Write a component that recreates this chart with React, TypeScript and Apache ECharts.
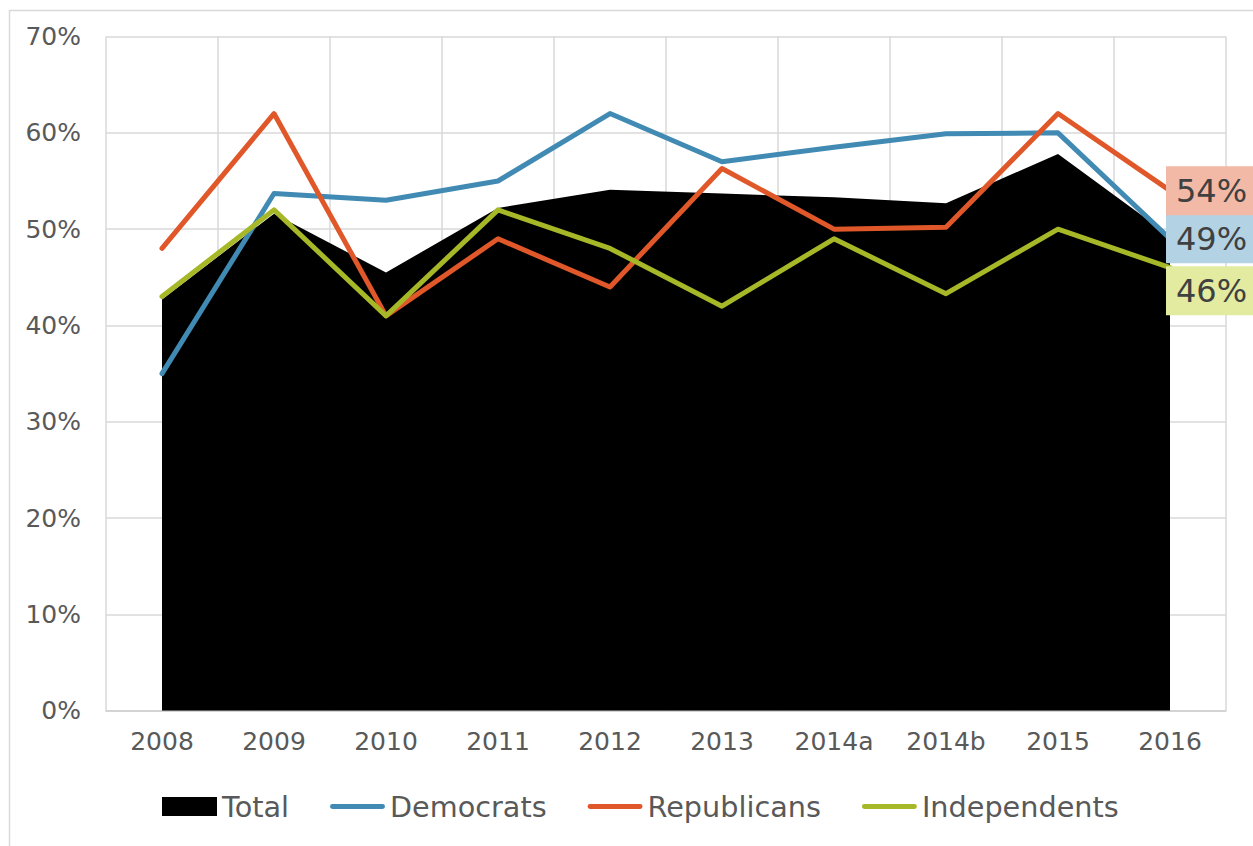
import React, { useEffect, useRef } from "react";
import * as echarts from "echarts";

const categories = ["2008", "2009", "2010", "2011", "2012", "2013", "2014a", "2014b", "2015", "2016"];
const totalValues = [42.7, 51.6, 45.5, 52.2, 54.1, 53.7, 53.3, 52.7, 57.8, 49.3];
const democratValues = [35.0, 53.7, 53.0, 55.0, 62.0, 57.0, 58.5, 59.9, 60.0, 49.0];
const republicanValues = [48.0, 62.0, 41.0, 49.0, 44.0, 56.3, 50.0, 50.2, 62.0, 54.0];
const independentValues = [43.0, 52.0, 41.0, 52.0, 48.0, 42.0, 49.0, 43.3, 50.0, 46.0];
const endLabels = ["54%", "49%", "46%"];
const yTicks = [0, 10, 20, 30, 40, 50, 60, 70];

const FONT = "DejaVu Sans";
const TEXT = "#595959";
const BLUE = "#418AB3";
const RED = "#E0582A";
const GREEN = "#A6B727";
const LINE_ICON = "path://M2.5,0 L53.5,0 A2.5,2.5 0 0 1 53.5,5 L2.5,5 A2.5,2.5 0 0 1 2.5,0 Z";

export default function App() {
  const ref = useRef<HTMLDivElement>(null);
  useEffect(() => {
    if (!ref.current) return;
    const chart = echarts.init(ref.current, null, { renderer: "svg" });
    const lineSeries = (
      name: string,
      data: number[],
      color: string,
      labelText: string,
      labelBg: string,
      offsetY: number
    ) => ({
      name,
      type: "line",
      data,
      symbol: "none",
      z: 3,
      lineStyle: { color, width: 5, cap: "round", join: "round" },
      itemStyle: { color },
      endLabel: {
        show: true,
        formatter: () => labelText,
        distance: -4,
        offset: [0, offsetY],
        backgroundColor: labelBg,
        color: "#404040",
        fontFamily: FONT,
        fontSize: 32,
        lineHeight: 38,
        padding: [6, 10, 5, 10],
      },
    });
    chart.setOption({
      animation: false,
      backgroundColor: "#ffffff",
      textStyle: { fontFamily: FONT },
      graphic: [
        {
          type: "rect",
          left: 7,
          top: 8,
          shape: { width: 1300, height: 900 },
          style: { fill: "none", stroke: "#D9D9D9", lineWidth: 1.5 },
          silent: true,
          z: -1,
        },
      ],
      grid: { left: 106, right: 27, top: 36.5, bottom: 135.2, containLabel: false },
      legend: {
        left: 157,
        top: 787,
        itemGap: 41,
        itemWidth: 55,
        itemHeight: 19,
        textStyle: { fontFamily: FONT, fontSize: 28.7, color: TEXT },
        data: [
          { name: "Total", icon: "rect", itemStyle: { color: "#000000" } },
          { name: "Democrats", icon: LINE_ICON, itemStyle: { color: BLUE } },
          { name: "Republicans", icon: LINE_ICON, itemStyle: { color: RED } },
          { name: "Independents", icon: LINE_ICON, itemStyle: { color: GREEN } },
        ],
      },
      xAxis: {
        type: "category",
        data: categories,
        boundaryGap: true,
        axisLine: { show: true, lineStyle: { color: "#D0D0D0", width: 1.5 } },
        axisTick: { show: false },
        axisLabel: { color: TEXT, fontFamily: FONT, fontSize: 25, margin: 18 },
        splitLine: { show: true, interval: 0, lineStyle: { color: "#D9D9D9", width: 1.5 } },
      },
      yAxis: {
        type: "value",
        min: yTicks[0],
        max: yTicks[yTicks.length - 1],
        interval: 10,
        axisLine: { show: false },
        axisTick: { show: false },
        axisLabel: {
          color: TEXT,
          fontFamily: FONT,
          fontSize: 25,
          margin: 25,
          formatter: (v: number) => `${v}%`,
        },
        splitLine: { show: true, lineStyle: { color: "#D9D9D9", width: 1.5 } },
      },
      series: [
        {
          name: "Total",
          type: "line",
          data: totalValues,
          symbol: "none",
          z: 2,
          lineStyle: { width: 0, color: "#000000" },
          itemStyle: { color: "#000000" },
          areaStyle: { color: "#000000", opacity: 1 },
        },
        lineSeries("Democrats", democratValues, BLUE, endLabels[1], "#B3D3E5", 0),
        lineSeries("Republicans", republicanValues, RED, endLabels[0], "#F2B9A7", 0),
        lineSeries("Independents", independentValues, GREEN, endLabels[2], "#E2EBA0", 23),
      ],
    });
    return () => chart.dispose();
  }, []);
  return (
    <div
      ref={ref}
      style={{ position: "absolute", left: 0, top: 0, width: 1253, height: 846 }}
    />
  );
}
